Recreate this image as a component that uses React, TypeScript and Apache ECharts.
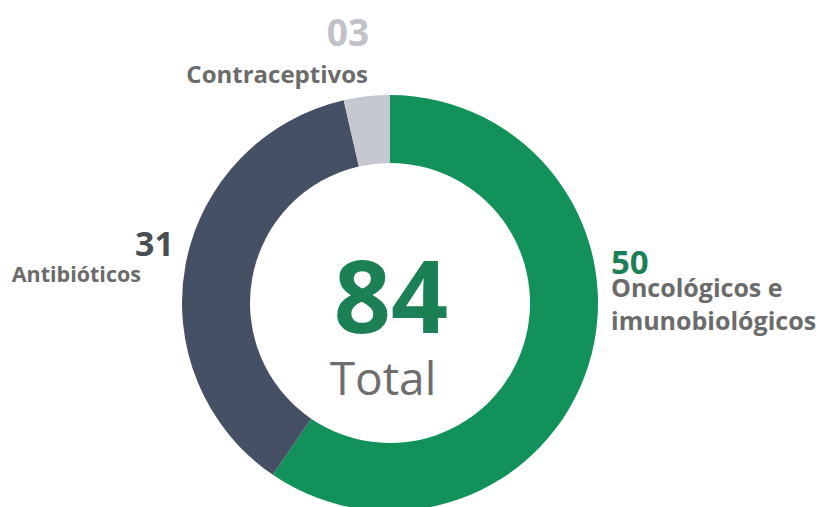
import React, { useEffect, useRef } from "react";
import * as echarts from "echarts";

const categories = ["Oncológicos e\nimunobiológicos", "Antibióticos", "Contraceptivos"];
const values = [50, 31, 3];
const sliceColors = ["#12915a", "#465064", "#c5c8d0"];
const valueColors = ["#1b8055", "#4a4d52", "#c0c2c7"];
const totalLabel = "Total";

export default function App() {
  const ref = useRef<HTMLDivElement>(null);
  useEffect(() => {
    if (!ref.current) return;
    const chart = echarts.init(ref.current, null, { renderer: "svg" });
    const total = values.reduce((a, b) => a + b, 0);
    const fmt = (v: number) => String(v).padStart(2, "0");
    const font = "'Open Sans', sans-serif";
    const labelColor = "#6b6b6b";
    chart.setOption({
      animation: false,
      backgroundColor: "#ffffff",
      series: [
        {
          type: "pie",
          center: [390, 303],
          radius: [140, 208],
          startAngle: 90,
          clockwise: true,
          label: { show: false },
          labelLine: { show: false },
          silent: true,
          data: categories.map((c, i) => ({
            name: c,
            value: values[i],
            itemStyle: { color: sliceColors[i] },
          })),
        },
      ],
      graphic: [
        {
          type: "text",
          x: 391,
          y: 294,
          style: {
            text: String(total),
            fill: valueColors[0],
            font: `bold 100px ${font}`,
            lineHeight: 78,
            align: "center",
            verticalAlign: "middle",
          },
        },
        {
          type: "text",
          x: 383,
          y: 377,
          style: {
            text: totalLabel,
            fill: "#6e6e6e",
            font: `46px ${font}`,
            lineHeight: 40,
            align: "center",
            verticalAlign: "middle",
          },
        },
        {
          type: "text",
          x: 348,
          y: 31,
          style: {
            text: fmt(values[2]),
            fill: valueColors[2],
            font: `bold 37px ${font}`,
            lineHeight: 30,
            align: "center",
            verticalAlign: "middle",
          },
        },
        {
          type: "text",
          x: 368,
          y: 73,
          style: {
            text: categories[2],
            fill: labelColor,
            font: `bold 24px ${font}`,
            lineHeight: 26,
            align: "right",
            verticalAlign: "middle",
          },
        },
        {
          type: "text",
          x: 174,
          y: 243,
          style: {
            text: fmt(values[1]),
            fill: valueColors[1],
            font: `bold 34px ${font}`,
            lineHeight: 26,
            align: "right",
            verticalAlign: "middle",
          },
        },
        {
          type: "text",
          x: 141,
          y: 273,
          style: {
            text: categories[1],
            fill: labelColor,
            font: `bold 21.5px ${font}`,
            lineHeight: 24,
            align: "right",
            verticalAlign: "middle",
          },
        },
        {
          type: "text",
          x: 611,
          y: 261,
          style: {
            text: fmt(values[0]),
            fill: valueColors[0],
            font: `bold 33px ${font}`,
            lineHeight: 24,
            align: "left",
            verticalAlign: "middle",
          },
        },
        {
          type: "text",
          x: 611,
          y: 303,
          style: {
            text: categories[0],
            fill: labelColor,
            font: `bold 25px ${font}`,
            lineHeight: 33,
            align: "left",
            verticalAlign: "middle",
          },
        },
      ],
    });
    return () => chart.dispose();
  }, []);
  return (
    <div
      ref={ref}
      style={{ position: "fixed", left: 0, top: 0, width: 819, height: 507 }}
    />
  );
}
